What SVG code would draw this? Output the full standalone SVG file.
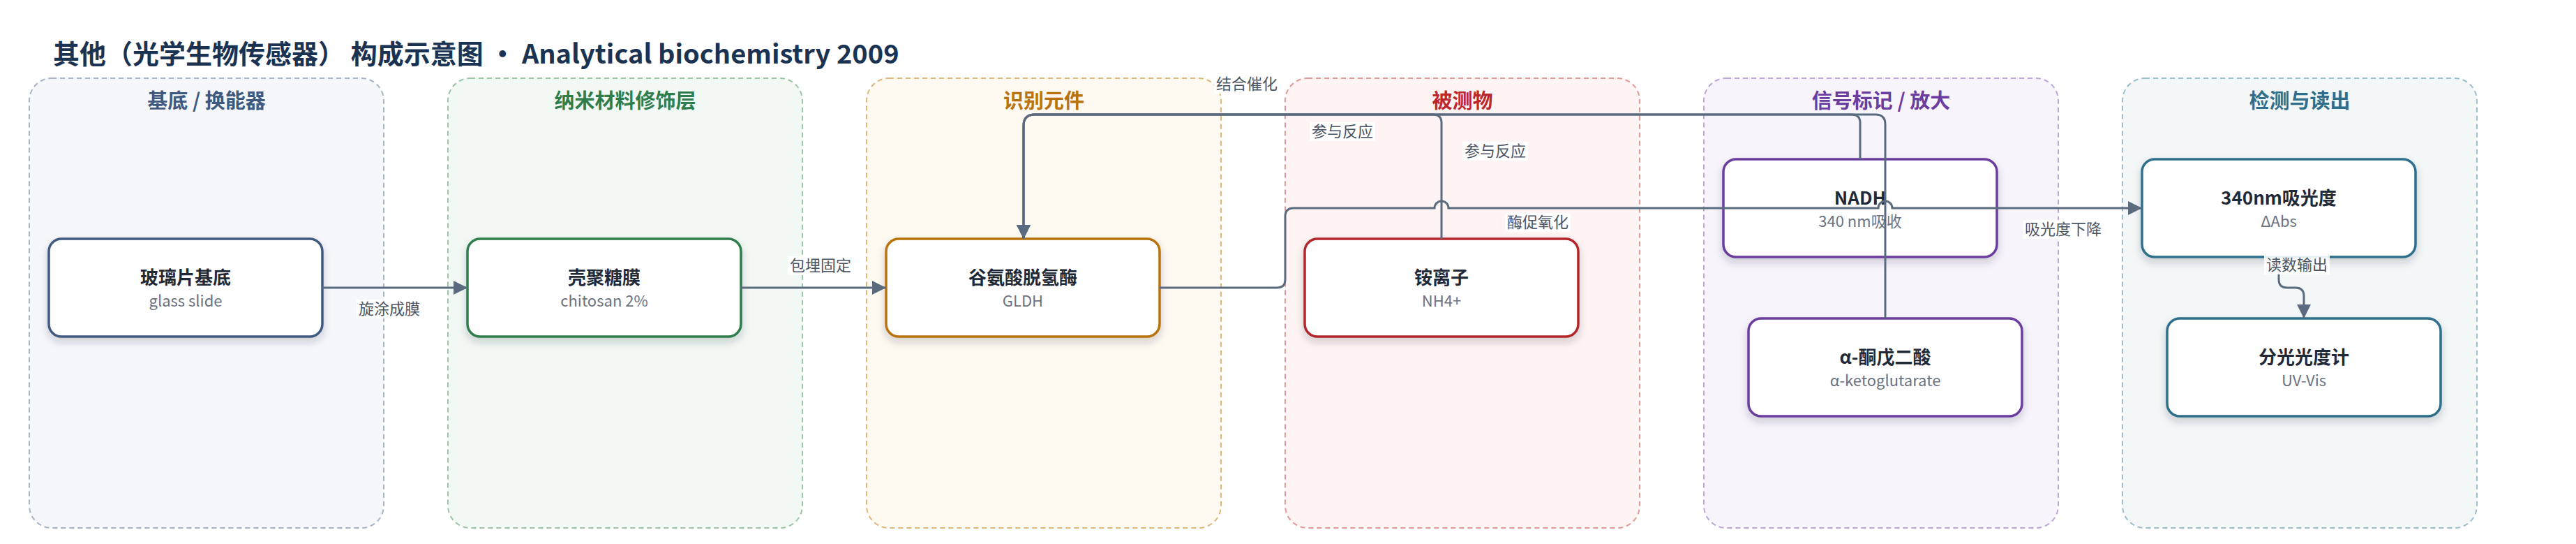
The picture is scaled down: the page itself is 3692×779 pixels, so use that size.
<svg xmlns="http://www.w3.org/2000/svg" width="3692" height="779" viewBox="0 0 3692 779">
<defs>
<style>
text{font-family:"Noto Sans CJK SC","Noto Sans",sans-serif}
.title{font-size:38px;font-weight:700;fill:#1b3352}
.lane{stroke-width:2;stroke-dasharray:7 5}
.lt{font-size:29px;font-weight:700;text-anchor:middle}
.node{fill:#fff;stroke-width:3.5;filter:url(#sh)}
.nt{font-size:26px;font-weight:700;fill:#1f2937;text-anchor:middle}
.ns{font-size:22px;fill:#6b7280;text-anchor:middle}
.edge{fill:none;stroke:#5a6b7f;stroke-width:3}
.lbl{font-size:22px;fill:#4b5563;text-anchor:middle}
.lbg{fill:#fff;opacity:0.9}
</style>
<filter id="sh" x="-10%" y="-20%" width="120%" height="150%">
<feDropShadow dx="0" dy="6" stdDeviation="6" flood-color="#1f2937" flood-opacity="0.2"/>
</filter>
<marker id="arr" markerUnits="userSpaceOnUse" markerWidth="20" markerHeight="20" refX="20" refY="10" orient="auto">
<path d="M0,0 L20,10 L0,20 z" fill="#5a6b7f"/>
</marker>
</defs>
<rect width="3692" height="779" fill="#fff"/>
<text class="title" x="76" y="91">其他（光学生物传感器） 构成示意图 • Analytical biochemistry 2009</text>

<g id="lanes">
<g id="lane-substrate"><rect class="lane" x="42" y="112" width="508" height="644" rx="32" fill="#f5f7fb" stroke="#a7b4c8"/><text class="lt" x="296" y="155" fill="#3f5a80">基底 / 换能器</text></g>
<g id="lane-nano"><rect class="lane" x="642" y="112" width="508" height="644" rx="32" fill="#f2f9f4" stroke="#9cc5a8"/><text class="lt" x="896" y="155" fill="#2f7d4c">纳米材料修饰层</text></g>
<g id="lane-recog"><rect class="lane" x="1242" y="112" width="508" height="644" rx="32" fill="#fef9f1" stroke="#e0b87a"/><text class="lt" x="1496" y="155" fill="#b8730e">识别元件</text></g>
<g id="lane-analyte"><rect class="lane" x="1842" y="112" width="508" height="644" rx="32" fill="#fef4f3" stroke="#e39a96"/><text class="lt" x="2096" y="155" fill="#bb272c">被测物</text></g>
<g id="lane-signal"><rect class="lane" x="2442" y="112" width="508" height="644" rx="32" fill="#f7f4fc" stroke="#bca6da"/><text class="lt" x="2696" y="155" fill="#6a3d9f">信号标记 / 放大</text></g>
<g id="lane-detect"><rect class="lane" x="3042" y="112" width="508" height="644" rx="32" fill="#f3f7f8" stroke="#9bbfcc"/><text class="lt" x="3296" y="155" fill="#2f6f8b">检测与读出</text></g>
</g>

<g id="n1"><rect class="node" x="70" y="342" width="392" height="140" rx="18" stroke="#3f5a80"/><text class="nt" x="266" y="407">玻璃片基底</text><text class="ns" x="266" y="439">glass slide</text></g>
<g id="n2"><rect class="node" x="670" y="342" width="392" height="140" rx="18" stroke="#2f7d4c"/><text class="nt" x="866" y="407">壳聚糖膜</text><text class="ns" x="866" y="439">chitosan 2%</text></g>
<g id="n3"><rect class="node" x="1270" y="342" width="392" height="140" rx="18" stroke="#b8730e"/><text class="nt" x="1466" y="407">谷氨酸脱氢酶</text><text class="ns" x="1466" y="439">GLDH</text></g>
<g id="n4"><rect class="node" x="1870" y="342" width="392" height="140" rx="18" stroke="#b3262b"/><text class="nt" x="2066" y="407">铵离子</text><text class="ns" x="2066" y="439">NH4+</text></g>
<g id="n5"><rect class="node" x="2470" y="228" width="392" height="140" rx="18" stroke="#6a3d9f"/><text class="nt" x="2666" y="293">NADH</text><text class="ns" x="2666" y="325">340 nm吸收</text></g>
<g id="n6"><rect class="node" x="2506" y="456" width="392" height="140" rx="18" stroke="#6a3d9f"/><text class="nt" x="2702" y="521">α-酮戊二酸</text><text class="ns" x="2702" y="553">α-ketoglutarate</text></g>
<g id="n7"><rect class="node" x="3070" y="228" width="392" height="140" rx="18" stroke="#2f6f8b"/><text class="nt" x="3266" y="293">340nm吸光度</text><text class="ns" x="3266" y="325">ΔAbs</text></g>
<g id="n8"><rect class="node" x="3106" y="456" width="392" height="140" rx="18" stroke="#2f6f8b"/><text class="nt" x="3302" y="521">分光光度计</text><text class="ns" x="3302" y="553">UV-Vis</text></g>

<g id="connectors">
<path class="edge" d="M462,412 H670" marker-end="url(#arr)"/>
<path class="edge" d="M1062,412 H1270" marker-end="url(#arr)"/>
<path class="edge" d="M2066,342 V176 Q2066,164 2054,164 H1483 Q1467,164 1467,180 V342" marker-end="url(#arr)"/>
<path class="edge" d="M2666,228 V176 Q2666,164 2654,164 H1483 Q1467,164 1467,180 V342" marker-end="url(#arr)"/>
<path class="edge" d="M2702,456 V178 Q2702,164 2688,164 H1483 Q1467,164 1467,180 V342" marker-end="url(#arr)"/>
<path class="edge" d="M1662,412 H1830 Q1842,412 1842,400 V310 Q1842,298 1854,298 H2056 A10,10 0 0 1 2076,298 H2692 A10,10 0 0 1 2712,298 H3070" marker-end="url(#arr)"/>
<path class="edge" d="M3266,368 V400 Q3266,412 3278,412 H3290 Q3302,412 3302,424 V456" marker-end="url(#arr)"/>
<g id="labels">
<rect class="lbg" x="511" y="429" width="94" height="27"/><text class="lbl" x="558" y="450">旋涂成膜</text>
<rect class="lbg" x="1129" y="367" width="94" height="27"/><text class="lbl" x="1176" y="388">包埋固定</text>
<rect class="lbg" x="1740" y="107" width="94" height="27"/><text class="lbl" x="1787" y="128">结合催化</text>
<rect class="lbg" x="1877" y="175" width="94" height="27"/><text class="lbl" x="1924" y="196">参与反应</text>
<rect class="lbg" x="2096" y="203" width="94" height="27"/><text class="lbl" x="2143" y="224">参与反应</text>
<rect class="lbg" x="2157" y="305" width="94" height="27"/><text class="lbl" x="2204" y="326">酶促氧化</text>
<rect class="lbg" x="2899" y="315" width="116" height="27"/><text class="lbl" x="2957" y="336">吸光度下降</text>
<rect class="lbg" x="3245" y="366" width="94" height="27"/><text class="lbl" x="3292" y="387">读数输出</text>
</g>
</g>
</svg>
